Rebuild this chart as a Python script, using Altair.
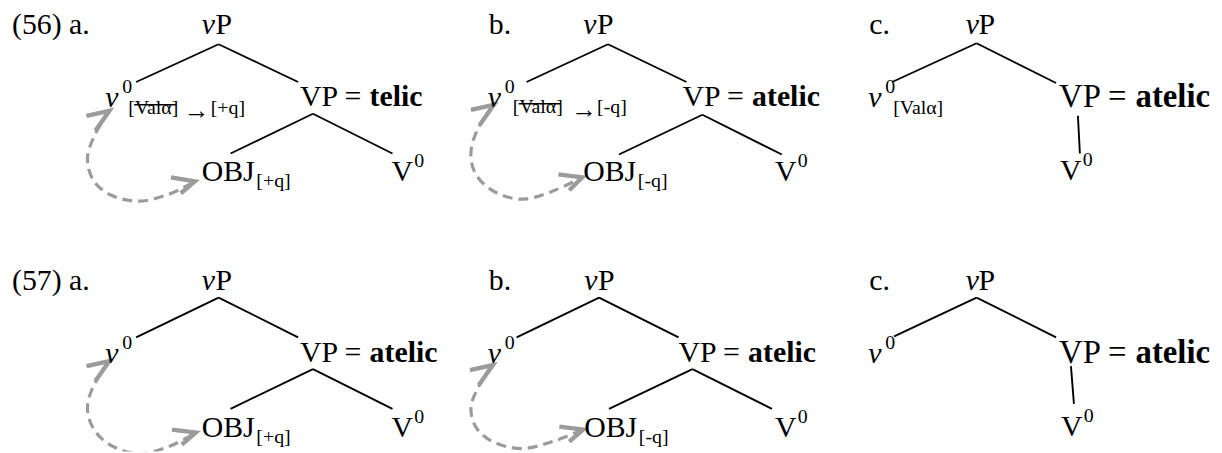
import altair as alt
import pandas as pd

FONT = "Liberation Serif"
GREY = "#9b9b9b"
W, H = 1214, 445

# ---------------- text, regular 30px ----------------
plain_text = ["(56) a.", "b.", "c.", "(57) a.", "b.", "c.",
              "P", "P", "P", "P", "P", "P",
              "VP =", "VP =", "VP =", "VP =",
              "OBJ", "OBJ", "OBJ", "OBJ",
              "V", "V", "V", "V", "V", "V"]
plain_x = [12, 492, 875, 12, 492, 875,
           217, 601, 985, 217, 602, 985,
           302, 687, 302, 683,
           203, 587, 203, 588,
           394, 780, 1067, 394, 780, 1068]
plain_y = [33, 33, 33, 290, 290, 290,
           33, 33, 33, 290, 290, 290,
           105, 105, 363, 363,
           181, 181, 438, 438,
           181, 181, 180, 438, 438, 437]

# "VP = atelic" of the c trees is set a little larger
big_text = ["VP =", "VP ="]
big_x = [1066, 1066]
big_y = [106, 364]
bigbold_text = ["atelic", "atelic"]
bigbold_x = [1143, 1143]
bigbold_y = [106, 364]

# ---------------- text, italic 30px ----------------
italic_text = ["v"] * 12
italic_x = [203, 587, 972, 203, 588, 972,
            106, 491, 874, 106, 491, 874]
italic_y = [33, 33, 33, 290, 290, 290,
            106, 106, 106, 364, 364, 364]

# ---------------- text, bold 30px ----------------
bold_text = ["telic", "atelic", "atelic", "atelic"]
bold_x = [372, 757, 372, 753]
bold_y = [105, 105, 363, 363]

# ---------------- text, small 20px (super/subscripts) ----------------
small_text = ["0", "0", "0", "0", "0", "0",
              "0", "0", "0", "0", "0", "0",
              "[Valα]", "[Valα]", "[Valα]",
              "[+q]", "[-q]",
              "[+q]", "[-q]", "[+q]", "[-q]"]
small_x = [123, 508, 891, 123, 508, 891,
           417, 803, 1090, 417, 803, 1091,
           129, 516, 899,
           212, 601,
           258, 642, 258, 643]
small_y = [92, 92, 92, 350, 350, 350,
           167, 167, 166, 424, 424, 423,
           113, 112, 113,
           113, 112,
           187, 187, 444, 444]

arrow_text = ["→", "→"]
arrow_x = [185, 575]
arrow_y = [118, 117]

# ---------------- strike-through over "Valα" ----------------
strike_x1 = [135, 522]
strike_x2 = [177, 564]
strike_y = [104, 103]

# ---------------- tree branches ----------------
edge_x1 = [220, 220, 612, 612, 983, 983,
           220, 220, 603, 603, 983, 983,
           315, 315, 707, 707, 1085,
           315, 315, 697, 697, 1078]
edge_y1 = [43, 43, 43, 43, 42, 42,
           298, 298, 298, 298, 298, 298,
           113, 113, 114, 114, 115,
           370, 370, 370, 370, 367]
edge_x2 = [137, 300, 530, 691, 898, 1063,
           137, 300, 520, 683, 900, 1063,
           232, 395, 623, 787, 1087,
           232, 395, 613, 777, 1081]
edge_y2 = [81, 81, 81, 81, 81, 82,
           338, 338, 338, 338, 337, 338,
           153, 153, 154, 154, 153,
           410, 410, 410, 410, 405]

# ---------------- dashed grey curves ----------------
curve_id = ["56a"] * 8 + ["56b"] * 8 + ["57a"] * 8 + ["57b"] * 8
curve_x = [110, 95, 88, 94, 112, 140, 170, 196,
           497, 481, 474, 479, 497, 525, 556, 586,
           110, 95, 88, 94, 112, 140, 170, 197,
           496, 481, 474, 480, 498, 526, 556, 587]
curve_y = [110, 135, 158, 180, 195, 201, 194, 181,
           104, 128, 152, 174, 191, 199, 191, 177,
           362, 385, 408, 430, 447, 455, 448, 434,
           366, 389, 410, 430, 444, 450, 443, 431]

# ---------------- arrow heads (open chevrons) ----------------
head_id = (["56a-top"] * 3 + ["56a-end"] * 3 + ["56b-top"] * 3 + ["56b-end"] * 3 +
           ["57a-top"] * 3 + ["57a-end"] * 3 + ["57b-top"] * 3 + ["57b-end"] * 3)
head_x = [87, 110, 96, 172, 196, 182,
          474, 497, 483, 562, 586, 573,
          87, 110, 96, 173, 197, 183,
          473, 496, 482, 563, 587, 573]
head_y = [115, 110, 130, 177, 181, 193,
          109, 104, 124, 174, 177, 190,
          367, 362, 382, 431, 434, 446,
          371, 366, 386, 428, 431, 443]

# ---------------- build chart ----------------
xs = alt.Scale(domain=[8, 8 + W], nice=False, zero=False)
ys = alt.Scale(domain=[8, 8 + H], nice=False, zero=False, reverse=True)
X = alt.X("x:Q", scale=xs, axis=None)
Y = alt.Y("y:Q", scale=ys, axis=None)


def text_layer(texts, xv, yv, size, style="normal", weight="normal"):
    df = pd.DataFrame({"t": texts, "x": xv, "y": yv})
    return alt.Chart(df).mark_text(
        font=FONT, fontSize=size, fontStyle=style, fontWeight=weight,
        align="left", baseline="alphabetic", color="black"
    ).encode(x=X, y=Y, text="t:N")


edges = pd.DataFrame({"x": edge_x1, "y": edge_y1, "x2": edge_x2, "y2": edge_y2})
edge_layer = alt.Chart(edges).mark_rule(color="black", strokeWidth=1.9).encode(
    x=X, y=Y, x2="x2:Q", y2="y2:Q")

strikes = pd.DataFrame({"x": strike_x1, "x2": strike_x2, "y": strike_y})
strike_layer = alt.Chart(strikes).mark_rule(color="black", strokeWidth=1.5).encode(
    x=X, x2="x2:Q", y=Y)

curves = pd.DataFrame({"id": curve_id, "x": curve_x, "y": curve_y,
                       "o": list(range(len(curve_x)))})
curve_layer = alt.Chart(curves).mark_line(
    color=GREY, strokeWidth=3.2, strokeDash=[10, 6], interpolate="cardinal", clip=True
).encode(x=X, y=Y, detail="id:N", order="o:Q")

heads = pd.DataFrame({"id": head_id, "x": head_x, "y": head_y,
                      "o": list(range(len(head_x)))})
head_layer = alt.Chart(heads).mark_line(
    color=GREY, strokeWidth=4.4, strokeJoin="miter", strokeCap="butt", clip=True
).encode(x=X, y=Y, detail="id:N", order="o:Q")

chart = alt.layer(
    edge_layer,
    strike_layer,
    curve_layer,
    head_layer,
    text_layer(plain_text, plain_x, plain_y, 30),
    text_layer(big_text, big_x, big_y, 33),
    text_layer(italic_text, italic_x, italic_y, 30, style="italic"),
    text_layer(bold_text, bold_x, bold_y, 30, weight="bold"),
    text_layer(bigbold_text, bigbold_x, bigbold_y, 33, weight="bold"),
    text_layer(small_text, small_x, small_y, 20),
    text_layer(arrow_text, arrow_x, arrow_y, 26),
).properties(
    width=W, height=H, padding=0,
    autosize=alt.AutoSizeParams(type="none"),
    background="white",
).configure_view(stroke=None)

chart.save("out.html", embed_options={"renderer": "svg", "actions": False})
